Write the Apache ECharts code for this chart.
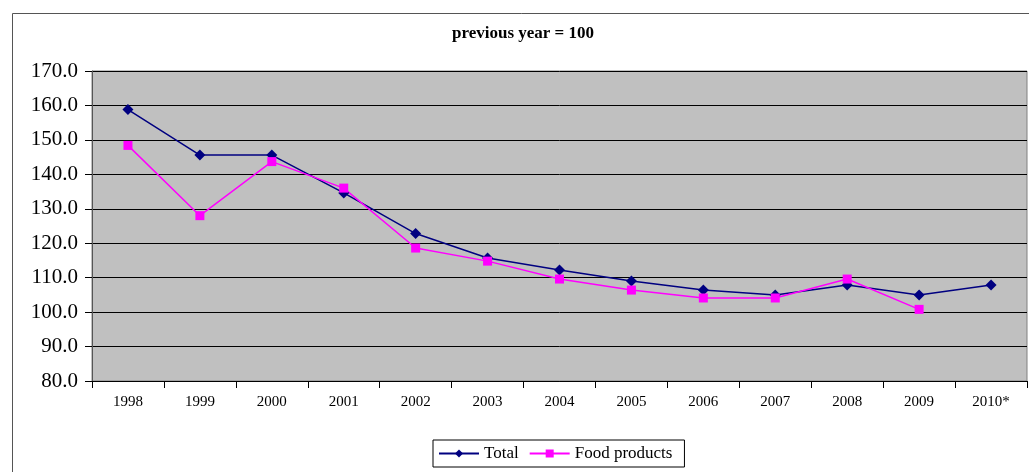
<!DOCTYPE html>
<html>
<head>
<meta charset="utf-8">
<script src="https://cdn.jsdelivr.net/npm/echarts@6/dist/echarts.min.js"></script>
<style>
html, body { margin: 0; padding: 0; background: #fff; }
#chart { width: 1029px; height: 472px; }
</style>
</head>
<body>
<div id="chart"></div>
<script>
var years = ['1998', '1999', '2000', '2001', '2002', '2003', '2004', '2005', '2006', '2007', '2008', '2009', '2010*'];
var total = [158.8, 145.6, 145.6, 134.6, 122.8, 115.7, 112.2, 109.0, 106.4, 105.0, 107.9, 105.0, 107.9];
var food = [148.4, 128.0, 143.7, 136.0, 118.6, 114.8, 109.6, 106.4, 104.1, 104.1, 109.6, 100.8, null];

var chart = echarts.init(document.getElementById('chart'));
chart.setOption({
    animation: false,
    backgroundColor: '#fff',
    textStyle: { fontFamily: 'Liberation Serif, Times New Roman, serif' },
    graphic: [
        {
            type: 'rect',
            left: 10, top: 11,
            shape: { width: 1040, height: 500 },
            style: { fill: 'none', stroke: '#555', lineWidth: 1 }
        }
    ],
    title: {
        text: 'previous year = 100',
        left: 518, top: 20,
        textAlign: 'center',
        textStyle: { fontSize: 17, fontWeight: 'bold', color: '#000', fontFamily: 'Liberation Serif, serif' }
    },
    legend: {
        data: ['Total', 'Food products'],
        left: 433, top: 440,
        padding: [5, 12, 5, 5],
        itemGap: 10,
        itemWidth: 40, itemHeight: 10,
        borderColor: '#000', borderWidth: 1,
        textStyle: { fontSize: 17, color: '#000', fontFamily: 'Liberation Serif, serif' }
    },
    grid: {
        left: 92, right: 2, top: 71, bottom: 91,
        show: true, backgroundColor: '#C0C0C0', borderColor: '#808080', borderWidth: 1
    },
    xAxis: {
        type: 'category',
        data: years,
        boundaryGap: true,
        axisLine: { lineStyle: { color: '#000' } },
        axisTick: { show: true, length: 7, lineStyle: { color: '#000' } },
        axisLabel: { fontSize: 15, color: '#000', margin: 14 }
    },
    yAxis: {
        type: 'value',
        min: 80, max: 170, interval: 10,
        axisLine: { show: true, lineStyle: { color: '#555' } },
        axisTick: { show: true, length: 7, lineStyle: { color: '#000' } },
        axisLabel: { fontSize: 21, color: '#000', margin: 14, formatter: function (v) { return v.toFixed(1); } },
        splitLine: { lineStyle: { color: '#000', width: 1 } }
    },
    series: [
        {
            name: 'Total',
            type: 'line',
            data: total,
            color: '#000080',
            symbol: 'diamond',
            symbolSize: 11,
            lineStyle: { width: 1.5 }
        },
        {
            name: 'Food products',
            type: 'line',
            data: food,
            color: '#FF00FF',
            symbol: 'rect',
            symbolSize: 9,
            lineStyle: { width: 1.5 }
        }
    ]
});
</script>
</body>
</html>
